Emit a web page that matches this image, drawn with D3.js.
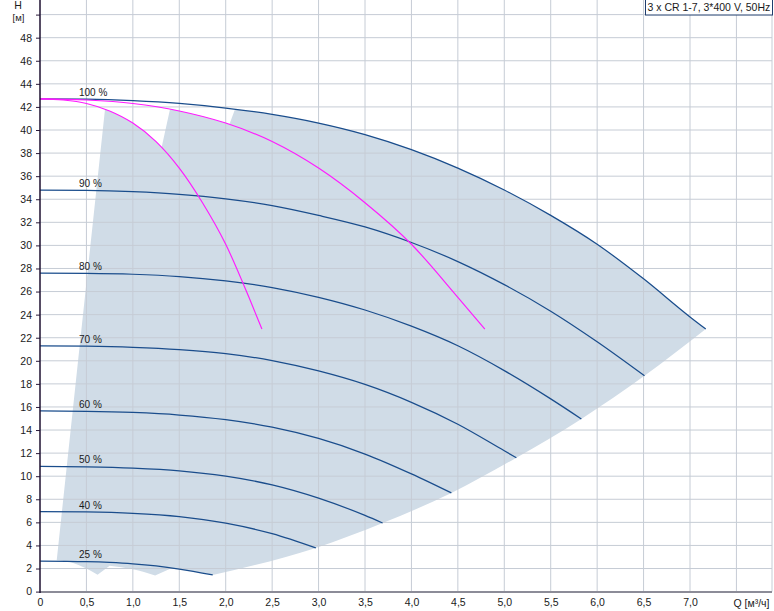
<!DOCTYPE html>
<html><head><meta charset="utf-8">
<script src="https://cdn.jsdelivr.net/npm/d3@7"></script>
<style>
body{margin:0;background:#fff;}
svg{display:block;font-family:"Liberation Sans",Arial,sans-serif;}
</style>
</head><body>
<svg id="c" width="774" height="611"></svg>
<script>
// ---------------- DATA ----------------
const speedLabels = ["100 %","90 %","80 %","70 %","60 %","50 %","40 %","25 %"];

const q100 = [0, 0.5, 1.0, 1.5, 2.0, 2.5, 3.0, 3.5, 4.0, 4.5, 5.0, 5.5, 6.0, 6.5, 7.0, 7.17];
const h100 = [42.7, 42.67, 42.54, 42.3, 41.9, 41.35, 40.6, 39.6, 38.3, 36.7, 34.8, 32.6, 30.1, 27.1, 23.8, 22.75];
const q90  = [0, 0.5, 1.0, 1.5, 2.0, 2.5, 3.0, 3.5, 4.0, 4.5, 5.0, 5.5, 6.0, 6.51];
const h90  = [34.8, 34.77, 34.65, 34.42, 34.03, 33.45, 32.6, 31.6, 30.25, 28.6, 26.6, 24.3, 21.65, 18.7];
const q80  = [0, 0.5, 1.0, 1.5, 2.0, 2.5, 3.0, 3.5, 4.0, 4.5, 5.0, 5.5, 5.83];
const h80  = [27.6, 27.58, 27.5, 27.3, 26.92, 26.35, 25.5, 24.4, 23.0, 21.3, 19.15, 16.7, 14.96];
const q70  = [0, 0.5, 1.0, 1.5, 2.0, 2.5, 3.0, 3.5, 4.0, 4.5, 5.0, 5.13];
const h70  = [21.3, 21.27, 21.17, 20.97, 20.62, 20.02, 19.12, 17.95, 16.4, 14.5, 12.2, 11.6];
const q60  = [0, 0.5, 1.0, 1.5, 2.0, 2.5, 3.0, 3.5, 4.0, 4.43];
const h60  = [15.65, 15.62, 15.52, 15.3, 14.9, 14.25, 13.27, 11.92, 10.2, 8.55];
const q50  = [0, 0.5, 1.0, 1.5, 2.0, 2.5, 3.0, 3.5, 3.69];
const h50  = [10.85, 10.81, 10.7, 10.47, 10.0, 9.25, 8.1, 6.6, 5.94];
const q40  = [0, 0.5, 1.0, 1.5, 2.0, 2.5, 2.97];
const h40  = [6.93, 6.9, 6.78, 6.5, 5.93, 5.02, 3.78];
const q25  = [0, 0.5, 0.75, 1.0, 1.25, 1.5, 1.86];
const h25  = [2.65, 2.6, 2.53, 2.41, 2.22, 1.95, 1.44];

// one pump and two pumps at 100 % (magenta)
const qOne = [0, 0.25, 0.5, 0.75, 1.0, 1.25, 1.5, 1.75, 2.0, 2.25, 2.39];
const hOne = [42.7, 42.6, 42.3, 41.65, 40.6, 39.0, 36.7, 33.7, 30.1, 25.5, 22.75];
const qTwo = [0, 0.5, 1.0, 1.5, 2.0, 2.5, 3.0, 3.5, 4.0, 4.5, 4.79];
const hTwo = [42.7, 42.6, 42.3, 41.65, 40.6, 39.0, 36.7, 33.7, 30.1, 25.5, 22.75];

// operating range outline, piece by piece [Q, H]
const shadeSegments = [
  [[0.70,41.8],[0.18,2.72]],
  [[0.18,2.72],[0.33,2.55],[0.50,2.0],[0.62,1.45]],
  [[0.62,1.45],[0.75,2.25]],
  [[0.75,2.25],[1.0,1.94],[1.24,1.4]],
  [[1.24,1.4],[1.42,2.05]],
  [[1.42,2.05],[1.5,1.95],[1.70,1.68],[1.86,1.44]],
  [[1.86,1.44],[2.97,3.78],[3.69,5.94],[4.43,8.55],[5.13,11.6],[5.83,14.96],[6.51,18.7],[7.17,22.75]],
  [[7.17,22.75],[7.0,23.8],[6.5,27.1],[6.0,30.1],[5.5,32.6],[5.0,34.8],[4.5,36.7],[4.0,38.3],[3.5,39.6],[3.0,40.6],[2.5,41.35],[2.10,41.79]],
  [[2.10,41.79],[2.04,40.5]],
  [[2.04,40.5],[2.0,40.6],[1.5,41.65],[1.40,41.79]],
  [[1.40,41.79],[1.31,38.5]],
  [[1.31,38.5],[1.25,39.0],[1.0,40.6],[0.75,41.65],[0.70,41.8]]
];
const shadeSmooth = [false,true,false,true,false,true,true,true,false,true,false,true];

const xTicks = d3.range(0, 7.51, 0.5);
const yTicks = d3.range(0, 50.1, 2);
const legendText = "3 x CR 1-7, 3*400 V, 50Hz";

// ---------------- CHART ----------------
(function(){
const svg = d3.select("#c");
const pL = 40, pR = 772, pT = 0, pB = 591.6;
const x = d3.scaleLinear().domain([0, 7]).range([40, 690]);
const y = d3.scaleLinear().domain([0, 50]).range([591.6, 14.6]);

svg.append("rect").attr("width",774).attr("height",611).attr("fill","#fff");

// shaded operating range
const segPath = (pts, smooth) => d3.line().x(d=>x(d[0])).y(d=>y(d[1]))
  .curve(smooth ? d3.curveMonotoneX : d3.curveLinear)(pts);
const shadeD = shadeSegments.map((s,i)=>{
  const p = segPath(s, shadeSmooth[i]);
  return i===0 ? p : p.replace(/^M/,"L");
}).join("") + "Z";
svg.append("path").attr("d", shadeD).attr("fill","#d0dce7").attr("stroke","none");

// grid
const grid = svg.append("g").attr("stroke","#c6ccd5").attr("stroke-width",1).attr("fill","none");
grid.selectAll("line.v").data(xTicks.filter(d=>d>0)).enter().append("line")
  .attr("x1",d=>x(d)).attr("x2",d=>x(d)).attr("y1",pT).attr("y2",pB);
grid.selectAll("line.h").data(yTicks.filter(d=>d>0)).enter().append("line")
  .attr("x1",pL).attr("x2",pR).attr("y1",d=>y(d)).attr("y2",d=>y(d));
grid.append("line").attr("x1",pR).attr("x2",pR).attr("y1",pT).attr("y2",pB);

// pump curves
const line = d3.line().x(d=>x(d[0])).y(d=>y(d[1])).curve(d3.curveMonotoneX);
const zip = (q,h) => q.map((v,i)=>[v,h[i]]);
const curveQ = [q100,q90,q80,q70,q60,q50,q40,q25];
const curveH = [h100,h90,h80,h70,h60,h50,h40,h25];
curveQ.forEach((q,i)=>{
  svg.append("path").attr("d", line(zip(q,curveH[i])))
    .attr("fill","none").attr("stroke","#1a4d8c").attr("stroke-width",1.25);
});
[[qOne,hOne],[qTwo,hTwo]].forEach(([q,h])=>{
  svg.append("path").attr("d", line(zip(q,h)))
    .attr("fill","none").attr("stroke","#ff1aff").attr("stroke-width",1.15);
});

// curve labels
curveH.forEach((h,i)=>{
  svg.append("text").attr("x", 79).attr("y", y(h[0]) - 3)
    .attr("font-size","10px").attr("fill","#1a1a1a").text(speedLabels[i]);
});

// axes
const yAxis = d3.axisLeft(y).tickValues(yTicks).tickSize(4).tickPadding(4)
  .tickFormat(d => d===50 ? "" : d);
const gy = svg.append("g").attr("transform",`translate(${pL},0)`).call(yAxis);
gy.select(".domain").remove();
gy.selectAll(".tick line").attr("stroke","#2a1a3a");
gy.selectAll(".tick text").attr("font-size","10.5px").attr("fill","#1a1a1a")
  .attr("font-family","Liberation Sans, Arial, sans-serif");

const fmt = d => d===0 ? "0" : d3.format(".1f")(d).replace(".",",");
const xAxis = d3.axisBottom(x).tickValues(xTicks).tickSize(0).tickPadding(7)
  .tickFormat(d => d===7.5 ? "" : fmt(d));
const gx = svg.append("g").attr("transform",`translate(0,${pB})`).call(xAxis);
gx.select(".domain").remove();
gx.selectAll(".tick text").attr("font-size","10.5px").attr("fill","#1a1a1a")
  .attr("font-family","Liberation Sans, Arial, sans-serif");

svg.append("line").attr("x1",pL).attr("x2",pR).attr("y1",592).attr("y2",592)
  .attr("stroke","#8c8c98").attr("stroke-width",2);
svg.append("line").attr("x1",pL).attr("x2",pL).attr("y1",0).attr("y2",593)
  .attr("stroke","#1e1030").attr("stroke-width",1.5);

// axis titles
svg.append("text").attr("x", x(7.5)-3).attr("y", 606.5).attr("font-size","10.5px")
  .attr("fill","#1a1a1a").text("Q [м³/ч]");
svg.append("text").attr("x",18).attr("y",8.5).attr("text-anchor","middle")
  .attr("font-size","10.5px").attr("fill","#1a1a1a").text("H");
svg.append("text").attr("x",18.5).attr("y",20.5).attr("text-anchor","middle")
  .attr("font-size","9.5px").attr("fill","#1a1a1a").text("[м]");

// legend box
svg.append("rect").attr("x",645.5).attr("y",-0.5).attr("width",127).attr("height",15.5)
  .attr("fill","#fff").attr("stroke","#1f3d6d").attr("stroke-width",1);
svg.append("text").attr("x",647.5).attr("y",11).attr("font-size","10.5px")
  .attr("fill","#1a1a1a").text(legendText);
})();
</script>
</body></html>
